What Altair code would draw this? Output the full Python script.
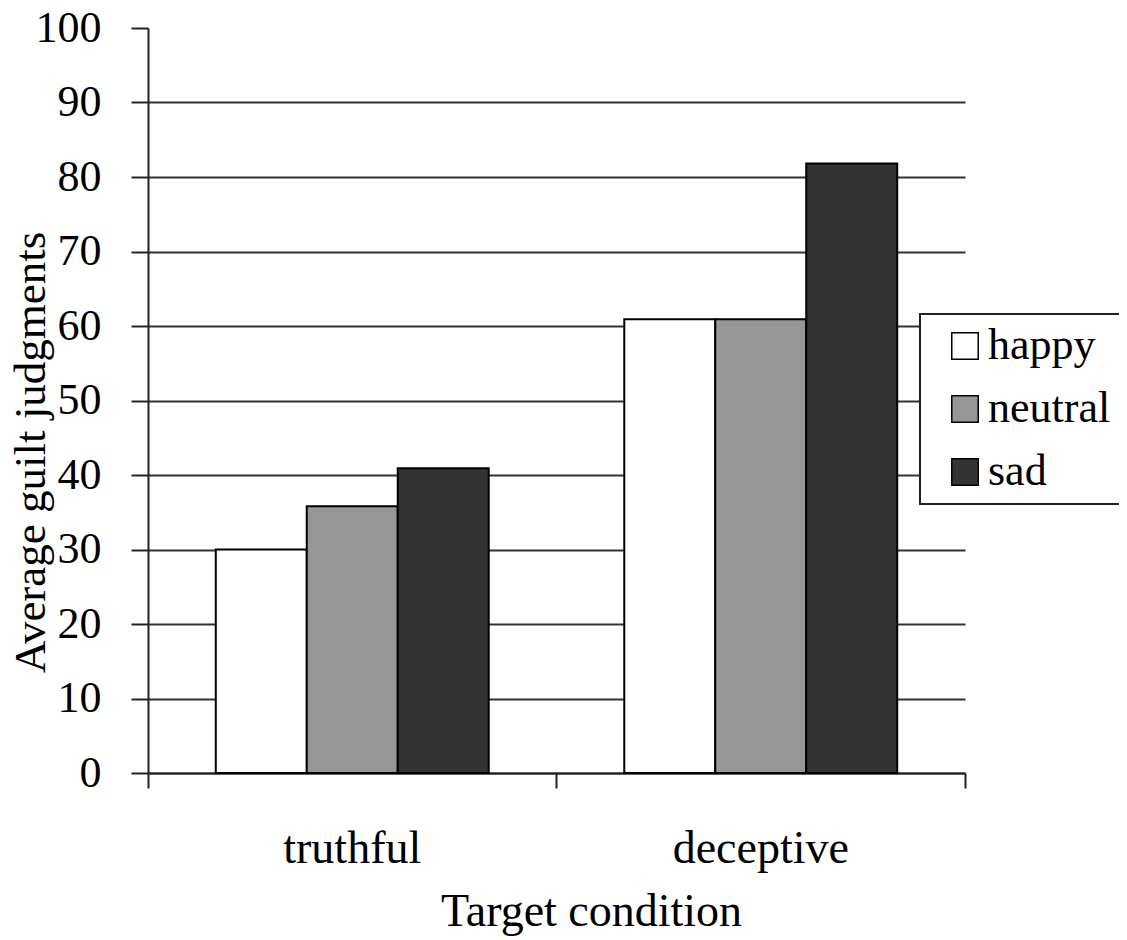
import altair as alt
import pandas as pd

conditions = ["truthful", "deceptive"]
emotions = ["happy", "neutral", "sad"]
truthful_vals = [30, 35.8, 40.9]
deceptive_vals = [60.9, 60.9, 81.8]
colors = ["#ffffff", "#969696", "#333333"]

rows = []
for cond, vals in zip(conditions, [truthful_vals, deceptive_vals]):
    for emo, v in zip(emotions, vals):
        rows.append({"condition": cond, "emotion": emo, "value": v})
df = pd.DataFrame(rows)

FONT = "Liberation Serif"

chart = alt.Chart(df).mark_bar(stroke="#000000", strokeWidth=2).encode(
    x=alt.X("condition:N", sort=conditions,
            scale=alt.Scale(paddingInner=0, paddingOuter=0),
            axis=alt.Axis(title="Target condition", labelAngle=0,
                          bandPosition=1, tickExtra=True,
                          tickSize=15, tickWidth=2, tickColor="#222222",
                          domainColor="#222222", domainWidth=2,
                          labelPadding=38, labelFontSize=46, labelFont=FONT,
                          labelColor="#000000",
                          titleFont=FONT, titleFontSize=46, titleFontWeight="normal",
                          titleColor="#000000", titleX=443, titleY=152,
                          titleBaseline="alphabetic", titleAlign="center")),
    xOffset=alt.XOffset("emotion:N", sort=emotions,
                        scale=alt.Scale(paddingInner=0, paddingOuter=0.745)),
    y=alt.Y("value:Q",
            scale=alt.Scale(domain=[0, 100], nice=False),
            axis=alt.Axis(title="Average guilt judgments",
                          values=list(range(0, 101, 10)),
                          tickSize=17, tickWidth=2, tickColor="#222222",
                          domainColor="#222222", domainWidth=2,
                          grid=True, gridColor="#333333", gridWidth=2,
                          gridOpacity={"condition": {"test": "datum.value == 100", "value": 0}, "value": 1},
                          labelPadding=30, labelFontSize=44, labelFont=FONT,
                          labelColor="#000000",
                          titleFont=FONT, titleFontSize=45, titleFontWeight="normal",
                          titleColor="#000000", titleAngle=-90,
                          titleX=-104, titleY=424, titleAlign="center",
                          titleBaseline="alphabetic")),
    fill=alt.Fill("emotion:N", sort=emotions,
                  scale=alt.Scale(domain=emotions, range=colors),
                  legend=alt.Legend(title=None, orient="none",
                                    legendX=772, legendY=286,
                                    symbolType="square", symbolSize=700,
                                    symbolStrokeColor="#000000", symbolStrokeWidth=1.5,
                                    symbolOffset=13,
                                    labelFont=FONT, labelFontSize=44,
                                    labelColor="#000000", labelOffset=1,
                                    rowPadding=19, padding=10,
                                    strokeColor="#222222", fillColor="#ffffff")),
).properties(
    width=817, height=745,
    padding={"left": 140, "top": 20, "right": 154, "bottom": 166},
    autosize=alt.AutoSizeParams(type="none"),
).configure_view(stroke=None).configure_legend(strokeWidth=2)

chart.save("out.html", embed_options={"renderer": "svg", "actions": False})
